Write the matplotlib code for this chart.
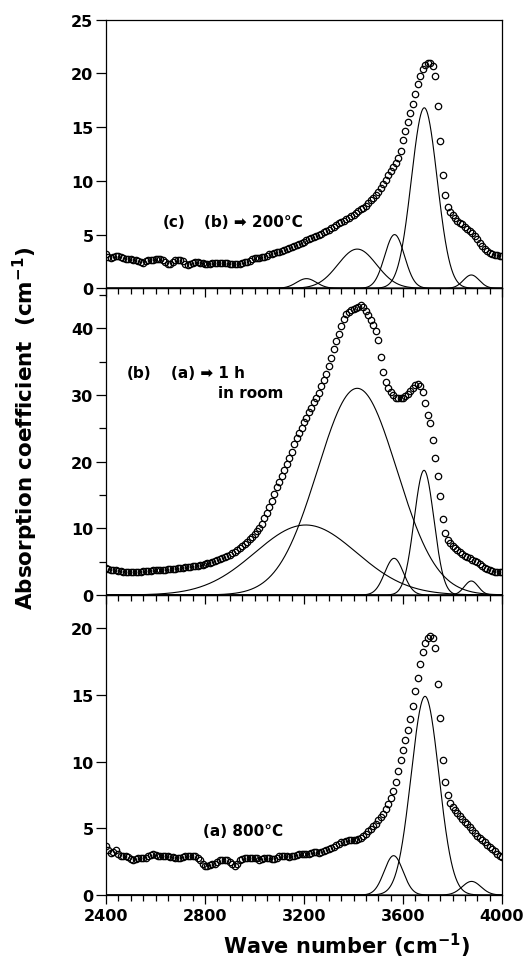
"""IR absorption spectra of three sample states with fitted Gaussian OH bands."""

import numpy as np
import matplotlib

matplotlib.use("Agg")
from matplotlib import pyplot as plt
from matplotlib.ticker import MultipleLocator

# Wave number grid of the measured points (cm-1)
WAVENUMBER = np.arange(2400, 4001, 10)

# (c) (b) -> 200°C, absorption coefficient (cm-1)
ABS_C = [
    3.2, 2.9, 2.8, 2.9, 3.0, 3.05, 2.95, 2.8, 2.75, 2.7,
    2.7, 2.65, 2.6, 2.55, 2.45, 2.4, 2.5, 2.6, 2.65, 2.65,
    2.7, 2.7, 2.7, 2.6, 2.45, 2.3, 2.3, 2.45, 2.6, 2.65,
    2.6, 2.5, 2.3, 2.2, 2.3, 2.4, 2.45, 2.45, 2.4, 2.35,
    2.3, 2.25, 2.3, 2.35, 2.4, 2.4, 2.4, 2.35, 2.35, 2.35,
    2.3, 2.3, 2.3, 2.25, 2.3, 2.4, 2.45, 2.45, 2.55, 2.7,
    2.8, 2.85, 2.85, 2.9, 2.95, 3.05, 3.15, 3.2, 3.3, 3.35,
    3.4, 3.5, 3.6, 3.65, 3.75, 3.85, 3.95, 4.0, 4.1, 4.2,
    4.35, 4.45, 4.55, 4.65, 4.75, 4.85, 5.0, 5.1, 5.2, 5.35,
    5.45, 5.6, 5.75, 5.9, 6.05, 6.15, 6.3, 6.45, 6.55, 6.7,
    6.85, 7.0, 7.15, 7.35, 7.5, 7.7, 7.95, 8.2, 8.45, 8.7,
    9.0, 9.3, 9.7, 10.1, 10.5, 10.9, 11.3, 11.7, 12.1, 12.8,
    13.8, 14.6, 15.5, 16.3, 17.2, 18.1, 19.0, 19.8, 20.4, 20.8,
    21.0, 20.95, 20.7, 19.8, 17.0, 13.7, 10.5, 8.7, 7.6, 7.1,
    6.8, 6.5, 6.3, 6.1, 5.95, 5.75, 5.55, 5.35, 5.15, 4.9,
    4.6, 4.25, 3.95, 3.7, 3.45, 3.3, 3.2, 3.1, 3.1, 3.05,
    3.05,
]

# (b) (a) -> 1 h in room
ABS_B = [
    4.0, 3.9, 3.8, 3.75, 3.7, 3.65, 3.6, 3.5, 3.4, 3.4,
    3.4, 3.45, 3.45, 3.5, 3.5, 3.55, 3.6, 3.6, 3.65, 3.7,
    3.7, 3.75, 3.75, 3.8, 3.8, 3.85, 3.85, 3.9, 3.95, 4.0,
    4.05, 4.1, 4.15, 4.2, 4.25, 4.3, 4.35, 4.4, 4.45, 4.55,
    4.65, 4.75, 4.85, 4.95, 5.05, 5.2, 5.35, 5.5, 5.65, 5.85,
    6.05, 6.3, 6.5, 6.75, 7.0, 7.3, 7.6, 7.95, 8.35, 8.75,
    9.15, 9.6, 10.1, 10.7, 11.5, 12.3, 13.2, 14.1, 15.2, 16.2,
    17.0, 17.8, 18.8, 19.7, 20.6, 21.5, 22.6, 23.6, 24.3, 25.0,
    25.9, 26.6, 27.4, 28.1, 28.9, 29.6, 30.3, 31.3, 32.3, 33.1,
    34.4, 35.6, 36.9, 38.1, 39.2, 40.3, 41.4, 42.2, 42.5, 42.8,
    42.9, 43.0, 43.2, 43.5, 43.2, 42.6, 42.0, 41.3, 40.5, 39.6,
    38.2, 35.7, 33.4, 31.9, 31.0, 30.4, 30.0, 29.6, 29.5, 29.5,
    29.6, 29.8, 30.2, 30.6, 31.0, 31.5, 31.7, 31.4, 30.5, 28.8,
    27.0, 25.8, 23.2, 20.5, 17.8, 14.8, 11.4, 9.3, 8.3, 7.8,
    7.4, 7.0, 6.7, 6.4, 6.2, 5.9, 5.7, 5.5, 5.3, 5.1,
    4.9, 4.6, 4.35, 4.1, 3.9, 3.75, 3.6, 3.5, 3.45, 3.4,
    3.4,
]

# (a) 800°C
ABS_A = [
    3.65, 3.35, 3.15, 3.25, 3.35, 3.1, 2.95, 2.9, 2.9, 2.85,
    2.7, 2.6, 2.7, 2.8, 2.8, 2.75, 2.8, 2.9, 3.0, 3.05,
    3.0, 2.95, 2.9, 2.9, 2.9, 2.9, 2.85, 2.85, 2.8, 2.8,
    2.8, 2.85, 2.9, 2.9, 2.95, 2.95, 2.95, 2.8, 2.6, 2.35,
    2.2, 2.2, 2.25, 2.3, 2.35, 2.45, 2.6, 2.65, 2.65, 2.6,
    2.5, 2.3, 2.15, 2.3, 2.6, 2.7, 2.75, 2.75, 2.8, 2.8,
    2.8, 2.75, 2.6, 2.7, 2.75, 2.75, 2.75, 2.7, 2.7, 2.8,
    2.9, 2.95, 2.95, 2.9, 2.85, 2.9, 2.95, 3.0, 3.05, 3.1,
    3.1, 3.05, 3.1, 3.15, 3.2, 3.2, 3.15, 3.2, 3.3, 3.4,
    3.45, 3.5, 3.6, 3.75, 3.85, 3.95, 4.0, 4.05, 4.1, 4.1,
    4.15, 4.15, 4.2, 4.3, 4.45, 4.6, 4.8, 4.95, 5.15, 5.35,
    5.6, 5.85, 6.1, 6.45, 6.8, 7.3, 7.8, 8.5, 9.3, 10.1,
    10.9, 11.6, 12.4, 13.2, 14.2, 15.3, 16.3, 17.3, 18.2, 18.9,
    19.3, 19.4, 19.3, 18.5, 15.8, 13.3, 10.1, 8.5, 7.5, 6.9,
    6.6, 6.35, 6.15, 5.95, 5.7, 5.5, 5.3, 5.1, 4.9, 4.65,
    4.45, 4.3, 4.15, 3.95, 3.75, 3.6, 3.45, 3.3, 3.1, 2.95,
    2.85,
]

# Fitted Gaussian bands: centre, peak height, sigma (all cm-1)
BAND_C_CENTER = [3210, 3415, 3566, 3686, 3876]
BAND_C_HEIGHT = [0.9, 3.65, 5.0, 16.8, 1.24]
BAND_C_SIGMA = [40, 78, 40, 52, 32]

BAND_B_CENTER = [3207, 3415, 3564, 3685, 3876]
BAND_B_HEIGHT = [10.5, 31.0, 5.5, 18.7, 2.1]
BAND_B_SIGMA = [205, 160, 38, 40, 28]

BAND_A_CENTER = [3562, 3689, 3877]
BAND_A_HEIGHT = [2.95, 14.9, 1.02]
BAND_A_SIGMA = [38, 56, 38]

plt.rcParams["font.family"] = ["DejaVu Sans"]
plt.rcParams["font.weight"] = "bold"
plt.rcParams["mathtext.fontset"] = "dejavusans"
plt.rcParams["mathtext.default"] = "bf"

W, H = 528, 962
LEFT, RIGHT = 106, 502


def draw_panel(fig, top_px, bottom_px, absorb, centers, heights, sigmas, ymax, ymajor, yminor, show_xlabels):
    """Draw one spectrum panel between pixel rows top_px and bottom_px."""
    ax = fig.add_axes(
        [LEFT / W, 1 - bottom_px / H, (RIGHT - LEFT) / W, (bottom_px - top_px) / H]
    )
    ax.set_facecolor("none")

    x_fine = np.linspace(2400, 4000, 1601)
    for c, h, s in zip(centers, heights, sigmas):
        ax.plot(x_fine, h * np.exp(-0.5 * ((x_fine - c) / s) ** 2), color="black", lw=0.8)

    ax.plot(
        WAVENUMBER, absorb, linestyle="none", marker="o", ms=4.6,
        mfc="none", mec="black", mew=0.9,
    )

    ax.set_xlim(2400, 4000)
    ax.set_ylim(0, ymax)
    ax.xaxis.set_major_locator(MultipleLocator(400))
    ax.xaxis.set_minor_locator(MultipleLocator(50))
    ax.yaxis.set_major_locator(MultipleLocator(ymajor))
    if yminor:
        ax.yaxis.set_minor_locator(MultipleLocator(yminor))
    else:
        ax.yaxis.set_minor_locator(plt.NullLocator())

    ax.tick_params(axis="x", which="both", direction="out", top=False, bottom=True,
                   labelbottom=show_xlabels, labelsize=11.5, pad=3, width=0.9)
    ax.tick_params(axis="x", which="major", length=6.5)
    ax.tick_params(axis="x", which="minor", length=4)
    ax.tick_params(axis="y", which="both", direction="out", left=True, right=False,
                   labelsize=11.5, pad=2, width=0.9)
    ax.tick_params(axis="y", which="major", length=7)
    ax.tick_params(axis="y", which="minor", length=5)
    for spine in ax.spines.values():
        spine.set_linewidth(0.9)
    return ax


def main():
    fig = plt.figure(figsize=(W / 100, H / 100), dpi=100)

    ax_a = draw_panel(fig, 596, 896, ABS_A, BAND_A_CENTER, BAND_A_HEIGHT, BAND_A_SIGMA,
                      22.5, 5, None, True)
    ax_b = draw_panel(fig, 289.3, 596, ABS_B, BAND_B_CENTER, BAND_B_HEIGHT, BAND_B_SIGMA,
                      46, 10, 5, False)
    ax_c = draw_panel(fig, 20.7, 289.3, ABS_C, BAND_C_CENTER, BAND_C_HEIGHT, BAND_C_SIGMA,
                      25, 5, None, False)

    txt = dict(fontsize=11, fontweight="bold", va="center", ha="left")
    ax_c.text(2630, 6.2, "(c)", **txt)
    ax_c.text(2796, 6.2, "(b) \u27a1 200°C", **txt)
    ax_b.text(2485, 33.4, "(b)", **txt)
    ax_b.text(2662, 33.4, "(a) \u27a1 1 h", **txt)
    ax_b.text(2853, 30.4, "in room", **txt)
    ax_a.text(2791, 4.8, "(a) 800°C", **txt)

    fig.text(25 / W, 1 - 428 / H, r"Absorption coefficient  (cm$^{-1}$)",
             rotation=90, ha="center", va="center", fontsize=15.5, fontweight="bold")
    fig.text(346 / W, 1 - 954 / H, r"Wave number (cm$^{-1}$)",
             ha="center", va="baseline", fontsize=15, fontweight="bold")

    fig.savefig("out.png", dpi=100, facecolor="white")


if __name__ == "__main__":
    main()
